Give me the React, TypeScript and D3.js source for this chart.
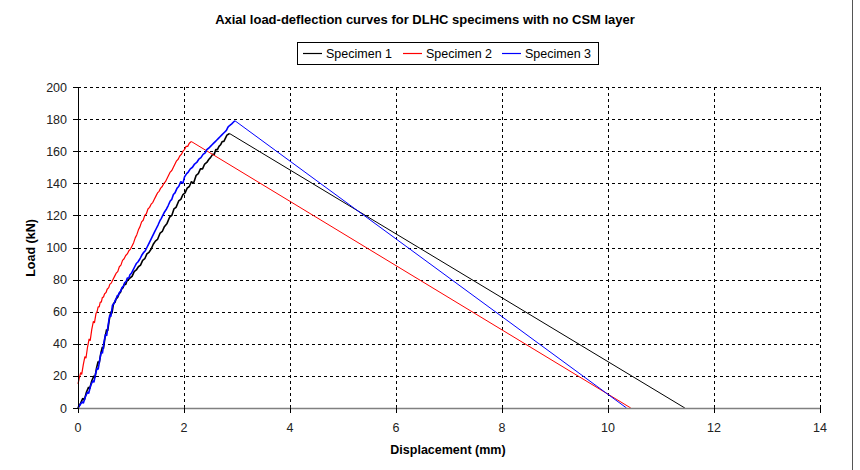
import React from "react";
import * as d3 from "d3";

const title = "Axial load-deflection curves for DLHC specimens with no CSM layer";
const seriesNames = ["Specimen 1", "Specimen 2", "Specimen 3"];
const seriesColors = ["#000000", "#ff0000", "#0000ff"];
const xTicks = [0, 2, 4, 6, 8, 10, 12, 14];
const yTicks = [0, 20, 40, 60, 80, 100, 120, 140, 160, 180, 200];

// [displacement (mm), load (kN)]
const specimen1: [number, number][] = [
  [0, 0], [0.05, 3], [0.09, 6], [0.12, 5], [0.16, 10], [0.2, 13], [0.22, 12], [0.26, 17], [0.3, 20], [0.32, 19],
  [0.35, 25], [0.38, 29], [0.4, 28], [0.43, 34], [0.46, 38], [0.48, 37], [0.51, 44], [0.54, 49], [0.56, 48],
  [0.59, 55], [0.62, 60], [0.64, 59], [0.67, 65], [0.7, 66], [0.72, 68], [0.75, 69], [0.77, 71], [0.8, 72],
  [0.82, 74], [0.85, 75], [0.87, 77], [0.9, 77], [0.92, 79], [0.95, 80], [0.98, 81], [1.02, 82], [1.06, 85],
  [1.1, 86], [1.14, 88], [1.18, 89], [1.22, 92], [1.26, 93], [1.3, 96], [1.34, 97], [1.38, 99], [1.42, 102],
  [1.46, 104], [1.5, 105], [1.55, 109], [1.59, 110], [1.63, 113], [1.68, 115], [1.73, 119], [1.77, 120],
  [1.81, 124], [1.85, 125], [1.9, 129], [1.94, 130], [1.98, 133], [2.02, 134], [2.06, 137], [2.1, 138],
  [2.14, 141], [2.18, 140], [2.23, 145], [2.27, 146], [2.31, 149], [2.35, 149], [2.39, 152], [2.43, 153],
  [2.47, 155], [2.5, 156], [2.54, 158], [2.57, 158], [2.6, 161], [2.63, 161], [2.66, 163], [2.69, 164],
  [2.72, 166], [2.75, 166], [2.78, 168], [2.81, 170], [2.86, 171], [11.45, 0],
];

const specimen2: [number, number][] = [
  [0, 15], [0.02, 18], [0.05, 22], [0.07, 21], [0.1, 27], [0.13, 32], [0.15, 31], [0.18, 38], [0.21, 43],
  [0.23, 42], [0.26, 49], [0.29, 54], [0.31, 53], [0.34, 59], [0.36, 60], [0.38, 63], [0.4, 63], [0.42, 66],
  [0.44, 66], [0.46, 69], [0.48, 69], [0.5, 71], [0.53, 72], [0.55, 74], [0.58, 75], [0.6, 77], [0.63, 78],
  [0.66, 80], [0.69, 82], [0.72, 84], [0.75, 85], [0.78, 88], [0.81, 89], [0.84, 92], [0.87, 93], [0.9, 95],
  [0.93, 96], [0.96, 98], [0.99, 99], [1.02, 101], [1.05, 103], [1.08, 106], [1.11, 108], [1.14, 111],
  [1.17, 113], [1.2, 116], [1.23, 117], [1.26, 120], [1.29, 121], [1.32, 124], [1.35, 125], [1.38, 127],
  [1.41, 128], [1.44, 130], [1.47, 132], [1.5, 134], [1.53, 135], [1.56, 137], [1.59, 138], [1.62, 140],
  [1.65, 141], [1.68, 143], [1.71, 145], [1.74, 147], [1.77, 148], [1.8, 150], [1.83, 152], [1.86, 154],
  [1.89, 155], [1.92, 157], [1.95, 158], [1.98, 160], [2.01, 161], [2.04, 163], [2.07, 163], [2.1, 165],
  [2.14, 166], [10.43, 0],
];

const specimen3: [number, number][] = [
  [0, 0], [0.04, 2], [0.08, 4], [0.1, 3], [0.14, 7], [0.18, 10], [0.2, 9], [0.24, 14], [0.28, 17], [0.3, 16],
  [0.33, 21], [0.36, 25], [0.38, 24], [0.41, 30], [0.44, 35], [0.46, 34], [0.49, 41], [0.52, 46], [0.54, 45],
  [0.57, 52], [0.6, 58], [0.62, 57], [0.65, 64], [0.68, 65], [0.7, 67], [0.72, 68], [0.74, 70], [0.76, 70],
  [0.78, 72], [0.81, 73], [0.83, 75], [0.86, 76], [0.88, 78], [0.91, 79], [0.93, 81], [0.96, 81], [0.98, 83],
  [1.01, 84], [1.04, 86], [1.07, 88], [1.1, 90], [1.13, 91], [1.17, 93], [1.2, 95], [1.24, 97], [1.27, 98],
  [1.3, 100], [1.33, 102], [1.36, 104], [1.39, 106], [1.42, 108], [1.45, 110], [1.48, 112], [1.51, 114],
  [1.55, 117], [1.57, 118], [1.6, 120], [1.63, 122], [1.67, 124], [1.7, 126], [1.74, 129], [1.77, 130],
  [1.8, 133], [1.83, 134], [1.87, 137], [1.9, 138], [1.94, 141], [1.98, 140], [2.01, 144], [2.05, 146],
  [2.08, 147], [2.12, 149], [2.16, 150], [2.2, 152], [2.24, 153], [2.28, 155], [2.32, 156], [2.36, 158],
  [2.4, 159], [2.43, 161], [2.47, 162], [2.5, 163], [2.53, 164], [2.56, 165], [2.59, 166], [2.62, 167],
  [2.65, 168], [2.68, 169], [2.71, 170], [2.74, 171], [2.77, 172], [2.8, 173], [2.83, 175], [2.86, 176],
  [2.9, 177], [2.93, 178], [2.96, 179], [10.35, 0],
];

const allSeries = [specimen1, specimen2, specimen3];
const riseWidths = [1.6, 1.2, 1.6];

const W = 860;
const H = 470;
const m = { left: 78, right: 820, top: 87, bottom: 408 };
const FONT = "'Liberation Sans', Arial, sans-serif";

export default function App() {
  const x = d3.scaleLinear().domain([0, 14]).range([m.left, m.right]);
  const y = d3.scaleLinear().domain([0, 200]).range([m.bottom, m.top]);
  const line = d3
    .line<[number, number]>()
    .x((d) => x(d[0]))
    .y((d) => y(d[1]));

  const legendX = [303, 403, 502];

  return (
    <svg
      width={W}
      height={H}
      style={{ position: "absolute", left: 0, top: 0, background: "#fff" }}
      fontFamily={FONT}
    >
      <rect x={0} y={0} width={W} height={H} fill="#fff" />
      {/* right border of chart area */}
      <line x1={852.5} x2={852.5} y1={0} y2={H} stroke="#555" strokeWidth={1} />

      {/* title */}
      <text x={425} y={24} textAnchor="middle" fontSize={13} fontWeight="bold" fill="#000">
        {title}
      </text>

      {/* legend */}
      <rect x={297.5} y={42.5} width={301} height={22} fill="#fff" stroke="#000" strokeWidth={1} />
      {seriesNames.map((n, i) => (
        <g key={n}>
          <line x1={legendX[i]} x2={legendX[i] + 19} y1={53.5} y2={53.5} stroke={seriesColors[i]} strokeWidth={1.2} />
          <text x={legendX[i] + 23} y={58} fontSize={12.5} fill="#000">
            {n}
          </text>
        </g>
      ))}

      {/* horizontal grid */}
      {yTicks
        .filter((t) => t > 0)
        .map((t) => (
          <line
            key={"gy" + t}
            x1={m.left}
            x2={m.right}
            y1={Math.round(y(t)) + 0.5}
            y2={Math.round(y(t)) + 0.5}
            stroke="#000"
            strokeWidth={1}
            strokeDasharray="3,3"
          />
        ))}
      {/* vertical grid */}
      {xTicks
        .filter((t) => t > 0)
        .map((t) => (
          <line
            key={"gx" + t}
            x1={Math.round(x(t)) + 0.5}
            x2={Math.round(x(t)) + 0.5}
            y1={m.top}
            y2={m.bottom}
            stroke="#000"
            strokeWidth={1}
            strokeDasharray="3,3"
          />
        ))}

      {/* series: descending (thin) and ascending (noisier, heavier) parts */}
      {allSeries.map((s, i) => (
        <g key={"s" + i}>
          <path d={line(s.slice(s.length - 2)) || ""} fill="none" stroke={seriesColors[i]} strokeWidth={1} />
          <path
            d={line(s.slice(0, s.length - 1)) || ""}
            fill="none"
            stroke={seriesColors[i]}
            strokeWidth={riseWidths[i]}
            strokeLinejoin="bevel"
          />
        </g>
      ))}

      {/* axes */}
      <line x1={m.left + 0.5} x2={m.left + 0.5} y1={m.top} y2={m.bottom} stroke="#000" strokeWidth={1} />
      <line x1={m.left} x2={m.right} y1={m.bottom + 0.5} y2={m.bottom + 0.5} stroke="#808080" strokeWidth={1.5} />
      {yTicks.map((t) => (
        <g key={"yt" + t}>
          <line x1={m.left - 5} x2={m.left} y1={Math.round(y(t)) + 0.5} y2={Math.round(y(t)) + 0.5} stroke="#000" />
          <text x={67} y={y(t) + 4.5} textAnchor="end" fontSize={12.5} fill="#222">
            {t}
          </text>
        </g>
      ))}
      {xTicks.map((t) => (
        <g key={"xt" + t}>
          <line x1={Math.round(x(t)) + 0.5} x2={Math.round(x(t)) + 0.5} y1={m.bottom} y2={m.bottom + 5} stroke="#000" />
          <text x={x(t)} y={432} textAnchor="middle" fontSize={12.5} fill="#222">
            {t}
          </text>
        </g>
      ))}

      {/* axis titles */}
      <text x={448} y={454} textAnchor="middle" fontSize={12.5} fontWeight="bold" fill="#000">
        Displacement (mm)
      </text>
      <text
        transform={`translate(35, 248) rotate(-90)`}
        textAnchor="middle"
        fontSize={12.5}
        fontWeight="bold"
        fill="#000"
      >
        Load (kN)
      </text>
    </svg>
  );
}
